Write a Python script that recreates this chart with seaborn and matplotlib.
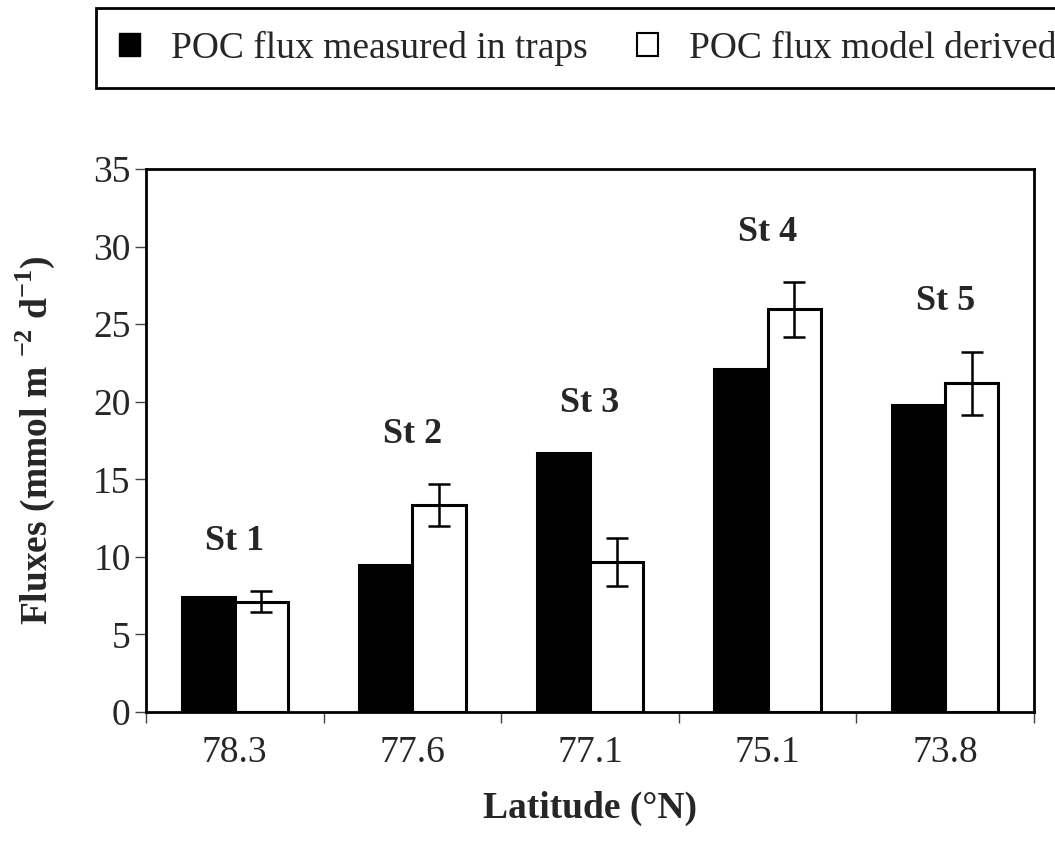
import pandas as pd
import numpy as np

import seaborn as sns
import matplotlib
matplotlib.use("Agg")
import matplotlib.pyplot as plt
from matplotlib.patches import Patch


latitudes = ["78.3", "77.6", "77.1", "75.1", "73.8"]
stations = ["St 1", "St 2", "St 3", "St 4", "St 5"]
poc_traps = [7.4, 9.5, 16.7, 22.1, 19.8]
poc_model = [7.1, 13.35, 9.65, 25.95, 21.2]
poc_model_err = [0.68, 1.35, 1.55, 1.75, 2.03]

series_names = ["POC flux measured in traps", "POC flux model derived"]

df = pd.DataFrame({
    "Latitude": latitudes * 2,
    "Flux": poc_traps + poc_model,
    "Series": [series_names[0]] * 5 + [series_names[1]] * 5,
})

sns.set_style('ticks')
plt.rcParams['font.family'] = ['Liberation Serif', 'DejaVu Serif']
plt.rcParams['mathtext.fontset'] = 'custom'
plt.rcParams['mathtext.rm'] = 'Liberation Serif'
plt.rcParams['mathtext.bf'] = 'Liberation Serif:bold'

fig = plt.figure(figsize=(10.55, 8.57), dpi=100)
ax = fig.add_axes([146/1055, 1-712/857, (1034-146)/1055, (712-169)/857])

sns.barplot(data=df, x="Latitude", y="Flux", hue="Series",
            order=latitudes, hue_order=series_names,
            palette=["black", "white"], edgecolor="black", linewidth=2.2,
            width=0.6, gap=0, errorbar=None, legend=False, ax=ax)

# error bars on the model bars
xs = [b.get_x() + b.get_width() / 2 for b in ax.containers[1]]
ax.errorbar(xs, poc_model, yerr=poc_model_err, fmt='none', ecolor='black',
            elinewidth=1.8, capsize=8, capthick=1.8, zorder=5)

# station labels over each group
for i, st in enumerate(stations):
    top = max(poc_traps[i], poc_model[i] + poc_model_err[i])
    ax.text(i, top + 3.2, st, ha='center', va='center',
            fontsize=26, fontweight='bold')

ax.set_ylim(0, 35)
ax.set_yticks(np.arange(0, 36, 5))
ax.set_xlim(-0.5, 4.5)
ax.set_xticks(range(5))
ax.set_xticks(np.arange(-0.5, 5, 1), minor=True)
ax.tick_params(axis='x', which='major', length=0, pad=17, labelsize=27)
ax.tick_params(axis='x', which='minor', length=8, width=1, direction='out', color='#444444')
ax.tick_params(axis='y', length=8, width=1, direction='out', pad=3, labelsize=27, color='#444444')

for s in ax.spines.values():
    s.set_linewidth(2)
    s.set_color('black')

ax.set_xlabel("Latitude (°N)", fontsize=27, fontweight='bold')
ax.set_ylabel(r"Fluxes (mmol m $^{\mathbf{-2}}$ d$^{\mathbf{-1}}$)", fontsize=27, fontweight='bold')
ax.xaxis.set_label_coords(0.5, -0.145)
ax.yaxis.set_label_coords(-0.10, 0.5)

handles = [Patch(facecolor='black', edgecolor='black'),
           Patch(facecolor='white', edgecolor='black', linewidth=1.5)]
leg = fig.legend(handles, series_names, loc='upper left',
                 bbox_to_anchor=(96/1055, 1-8/857), ncol=2, fontsize=27,
                 frameon=True, fancybox=False, edgecolor='black', framealpha=1,
                 borderaxespad=0, borderpad=0.6, handlelength=0.57, handleheight=0.57,
                 handletextpad=0.83, columnspacing=1.3)
leg.get_frame().set_linewidth(2)

fig.savefig("out.png", dpi=100)
